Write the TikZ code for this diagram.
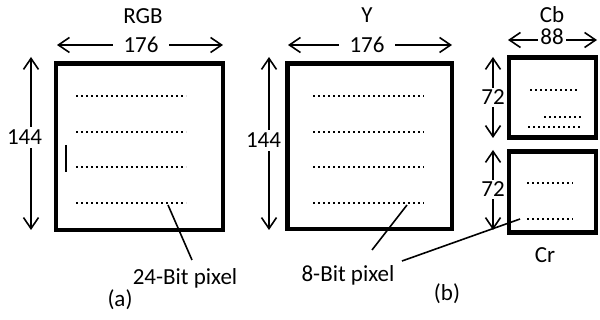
\documentclass[tikz,border=0pt]{standalone}
\usepackage{fontspec}
\setmainfont{Carlito}
\usetikzlibrary{arrows.meta}
\begin{document}
\begin{tikzpicture}[x=1pt,y=-1pt,
  box/.style={draw, line width=4.2pt, inner sep=0pt, outer sep=0pt},
  dim/.style={line width=1.6pt, {Straight Barb[length=11pt,width=15pt]}-{Straight Barb[length=11pt,width=15pt]}},
  lbl/.style={font=\fontsize{23}{27}\selectfont, inner sep=0pt, anchor=base},
  dimlbl/.style={lbl, fill=white},
  dots/.style={line width=2.3pt, dash pattern=on 2.3pt off 2.7pt},
  leader/.style={line width=1.6pt}]
\useasboundingbox (0,0) rectangle (600,320);
% boxes
\node[box, minimum width=167pt, minimum height=166.5pt] (rgb) at (139.5,146.75) {};
\node[box, minimum width=164.5pt, minimum height=165.5pt] (y) at (369.75,146.25) {};
\node[box, minimum width=87pt, minimum height=80pt] (cb) at (552.5,97.5) {};
\node[box, minimum width=87pt, minimum height=81pt] (cr) at (552.5,192) {};
% titles
\node[lbl] (trgb) at (143,24) {RGB};
\node[lbl] (ty) at (367,23) {Y};
\node[lbl] (tcb) at (552,23) {Cb};
\node[lbl] (tcr) at (545,263) {Cr};
% dimension arrows
\coordinate (h1a) at (57,45); \coordinate (h1b) at (223,45);
\draw[dim] (h1a) -- (h1b);
\node[dimlbl, inner xsep=11pt] (w1) at (141,53) {176};
\coordinate (v1a) at (31,57); \coordinate (v1b) at (31,230);
\draw[dim] (v1a) -- (v1b);
\node[dimlbl, inner ysep=3pt] (hgt1) at (24.5,145) {144};
\coordinate (h2a) at (288,45); \coordinate (h2b) at (452,45);
\draw[dim] (h2a) -- (h2b);
\node[dimlbl, inner xsep=11pt] (w2) at (367,53) {176};
\coordinate (v2a) at (269,57); \coordinate (v2b) at (269,230);
\draw[dim] (v2a) -- (v2b);
\node[dimlbl, inner ysep=3pt] (hgt2) at (263.5,148) {144};
\coordinate (h3a) at (508,40); \coordinate (h3b) at (597,40);
\draw[dim] (h3a) -- (h3b);
\node[dimlbl, inner xsep=2pt] (w3) at (552,45) {88};
\coordinate (v3a) at (493,57); \coordinate (v3b) at (493,138);
\draw[dim] (v3a) -- (v3b);
\node[dimlbl, inner ysep=2pt] (hgt3) at (493,105) {72};
\coordinate (v4a) at (493,150); \coordinate (v4b) at (493,230);
\draw[dim] (v4a) -- (v4b);
\node[dimlbl, inner ysep=2pt] (hgt4) at (493,197) {72};
% dotted pixel rows
\foreach \yy in {96,132,167,203} {
  \draw[dots] (76,\yy) -- (186,\yy);
  \draw[dots] (313,\yy) -- (424,\yy);
}
\draw[dots] (530,90) -- (577,90);
\draw[dots] (544,117) -- (581,117);
\draw[dots] (528,127) -- (581,127);
\draw[dots] (527,183) -- (573,183);
\draw[dots] (527,219) -- (573,219);
% small mark
\coordinate (m1) at (66,145); \coordinate (m2) at (66,172);
\draw[leader] (m1) -- (m2);
% labels and leaders
\node[lbl] (p24) at (185,285) {24-Bit pixel};
\node[lbl] (p8) at (348,282) {8-Bit pixel};
\node[lbl] (la) at (120,307) {(a)};
\node[lbl] (lb) at (447,301) {(b)};
\coordinate (l1a) at (168,205); \coordinate (l1b) at (192,260);
\draw[leader] (l1a) -- (l1b);
\coordinate (l2a) at (407,205); \coordinate (l2b) at (372,250);
\draw[leader] (l2a) -- (l2b);
\coordinate (l3a) at (402,261); \coordinate (l3b) at (520,219);
\draw[leader] (l3a) -- (l3b);
\end{tikzpicture}
\end{document}
